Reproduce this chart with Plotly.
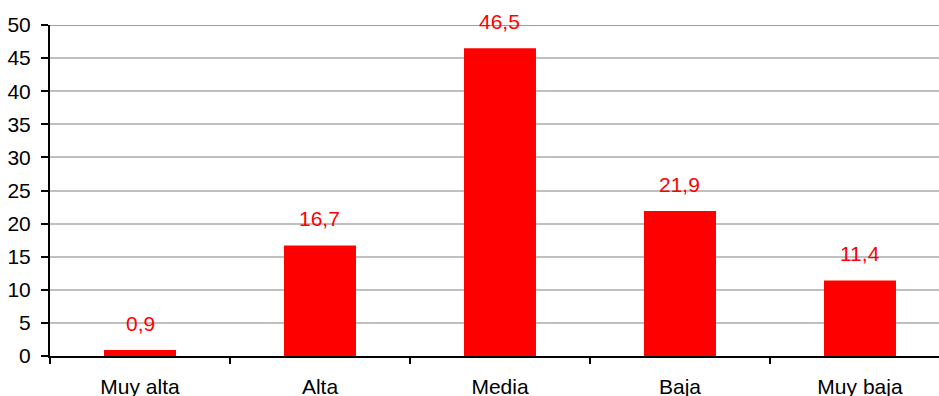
import plotly.graph_objects as go

categories = ["Muy alta", "Alta", "Media", "Baja", "Muy baja"]
values = [0.9, 16.7, 46.5, 21.9, 11.4]
y_ticks = [0, 5, 10, 15, 20, 25, 30, 35, 40, 45, 50]

FONT = "Liberation Sans, Arial, sans-serif"

fig = go.Figure()
fig.add_trace(go.Bar(
    x=categories, y=values,
    marker=dict(color="#FF0000", line=dict(width=0)),
    width=0.4,
))

for c, v in zip(categories, values):
    fig.add_annotation(
        x=c, y=v, text=f"{v:.1f}".replace(".", ","),
        showarrow=False, yanchor="middle", yshift=27,
        font=dict(family=FONT, size=21, color="#FF0000"),
    )

fig.add_shape(type="line", xref="paper", yref="y", x0=0, x1=1, y0=50, y1=50,
              line=dict(color="#808080", width=1.5))

fig.update_layout(
    width=939, height=396,
    margin=dict(l=50, r=0, t=25, b=40),
    plot_bgcolor="white", paper_bgcolor="white",
    showlegend=False,
    font=dict(family=FONT, size=21, color="black"),
    xaxis=dict(
        type="category", range=[-0.5, 4.439], automargin=False,
        tickson="boundaries", ticks="outside", ticklen=6, tickcolor="black", tickwidth=2,
        showline=True, linecolor="black", linewidth=2,
        showgrid=False, ticklabelstandoff=11,
        tickfont=dict(family=FONT, size=21, color="black"),
    ),
    yaxis=dict(
        range=[0, 50], tickvals=y_ticks, automargin=False,
        ticks="outside", ticklen=7, tickcolor="black", tickwidth=1.5,
        showline=True, linecolor="black", linewidth=2,
        showgrid=True, gridcolor="#C0C0C0", gridwidth=1.5,
        zeroline=False, ticklabelstandoff=6,
        tickfont=dict(family=FONT, size=21, color="black"),
    ),
)

fig.write_html("out.html")
